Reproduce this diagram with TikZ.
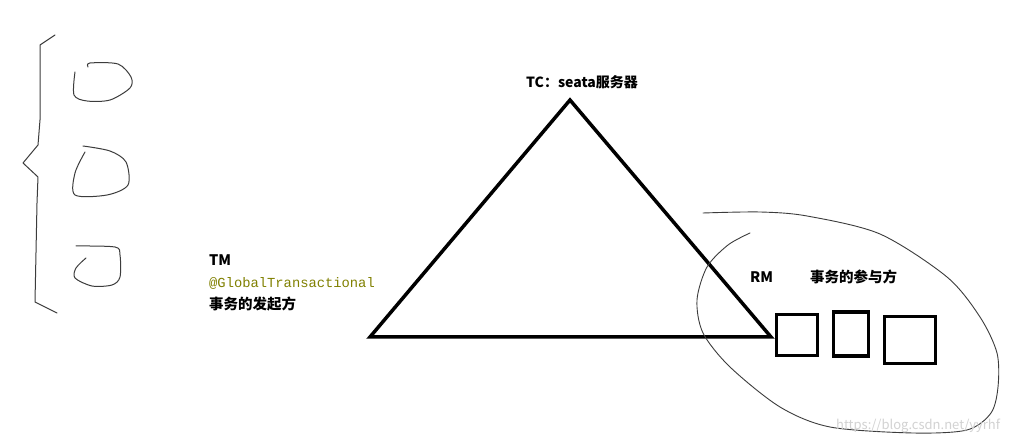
\documentclass[tikz,border=0pt]{standalone}
\usepackage{fontspec}
\setmainfont{Noto Sans CJK SC}
\newfontfamily\monof{Liberation Mono}
\definecolor{anno}{RGB}{128,128,0}
\definecolor{pen}{RGB}{60,60,60}
\begin{document}
\begin{tikzpicture}[x=1pt,y=-1pt,
  thickline/.style={line width=3.5pt,line join=miter},
  hand/.style={draw=pen,line width=1pt,line cap=round,line join=round},
  label/.style={font=\fontsize{14.5}{16}\selectfont\bfseries,inner sep=0pt,anchor=base west},
  boxnode/.style={draw,line width=3.5pt,inner sep=0pt}]
\useasboundingbox[fill=white] (0,0) rectangle (1029,443);
% brace
\draw[hand] (55,35) -- (40,45) -- (40,120) -- (38,145) -- (23,163) -- (38,177) -- (37,203) -- (35,302) -- (57,313);
% loops
\draw[hand] plot[smooth] coordinates {(75,72) (74,95) (87,101) (110,100) (130,88) (131,77) (118,64) (90,63) (88,67)};
\draw[hand] plot[smooth] coordinates {(83,146) (110,151) (126,162) (128,185) (107,195) (75,195) (75,173) (85,152)};
\draw[hand] plot[smooth] coordinates {(76,246) (115,247) (120,255) (120,277) (112,285) (92,286) (75,278) (76,268) (86,258)};
% triangle
\coordinate (apex) at (570,100);
\coordinate (left) at (370,337);
\coordinate (right) at (771,337);
\draw[thickline] (apex) -- (left) -- (right) -- cycle;
% RM ellipse hand curve
\draw[hand,line width=0.9pt] plot[smooth] coordinates {(703,213) (760,212) (807,216) (880,234) (947,277) (980,317) (997,353) (998,387) (991,413) (967,430) (913,433) (830,427) (780,407) (730,367) (703,333) (697,300) (707,267) (728,245) (750,233)};
% boxes
\node[boxnode,minimum width=41pt,minimum height=41pt] (b1) at (797,335) {};
\node[boxnode,minimum width=35pt,minimum height=44pt] (b2) at (851,334) {};
\node[boxnode,minimum width=51pt,minimum height=47pt] (b3) at (910,340) {};
% texts
\node[font=\fontsize{14}{16}\selectfont\bfseries,inner sep=0pt,anchor=base west] (tc) at (526,88) {TC：seata服务器};
\node[label] (tm) at (209,266) {TM};
\node[label,font=\monof\fontsize{13.8}{15}\selectfont,text=anno] (gt) at (209,288) {@GlobalTransactional};
\node[label] (tmd) at (209,310) {事务的发起方};
\node[label] (rm) at (750,283) {RM};
\node[label] (rmd) at (810,283) {事务的参与方};
\node[font=\fontsize{13}{15}\selectfont,text=gray!35,inner sep=0pt,anchor=base west] (wm) at (836,430) {https://blog.csdn.net/yyrhf};
\end{tikzpicture}
\end{document}
